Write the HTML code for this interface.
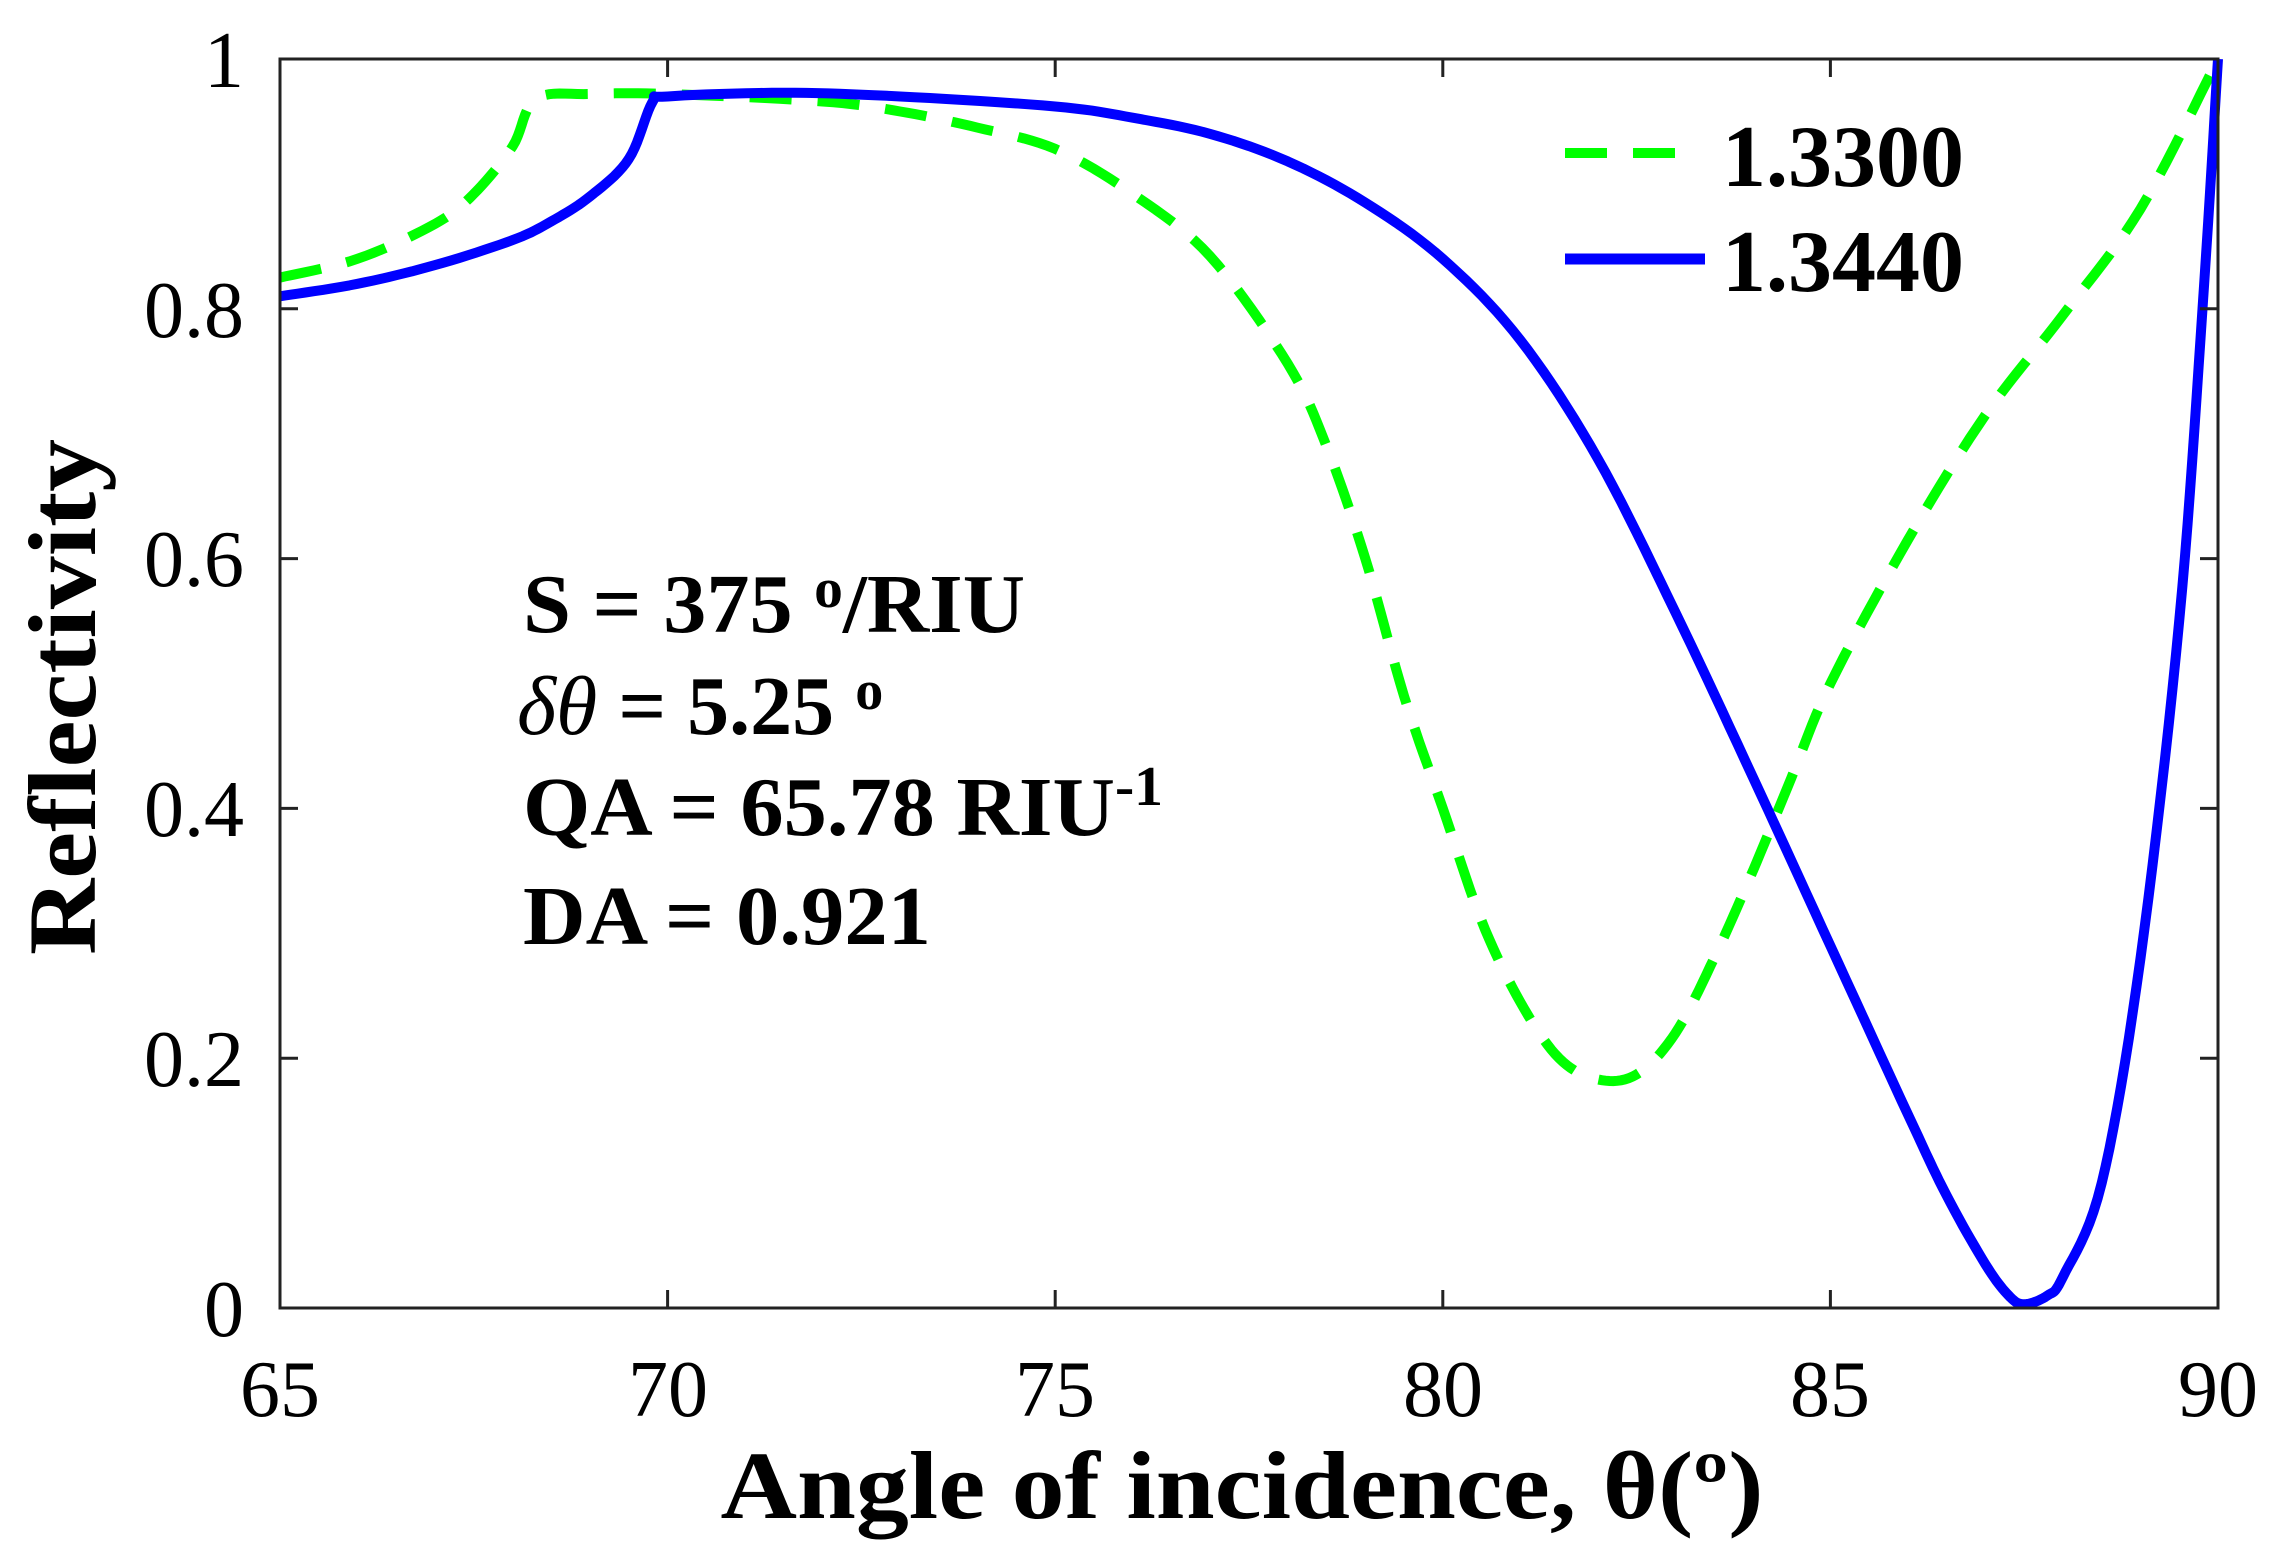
<!DOCTYPE html>
<html><head><meta charset="utf-8"><style>
html,body{margin:0;padding:0;background:#fff;}
svg{display:block;}
text{font-family:"Liberation Serif",serif;fill:#000;}
</style></head><body>
<svg id="s" width="2278" height="1560" viewBox="0 0 2278 1560" xmlns="http://www.w3.org/2000/svg">
<rect x="0" y="0" width="2278" height="1560" fill="#fff"/>
<g id="curves"></g>
<rect x="280" y="59" width="1938" height="1249" fill="none" stroke="#222" stroke-width="3"/>
<g id="ticks" stroke="#222" stroke-width="3"></g>
<g font-size="80" text-anchor="middle">
<text x="280" y="1416">65</text><text x="668" y="1416">70</text><text x="1055" y="1416">75</text>
<text x="1443" y="1416">80</text><text x="1830" y="1416">85</text><text x="2218" y="1416">90</text>
</g>
<g font-size="80" text-anchor="end">
<text x="244" y="1336">0</text><text x="244" y="1086">0.2</text><text x="244" y="836">0.4</text>
<text x="244" y="586">0.6</text><text x="244" y="337">0.8</text><text x="244" y="87">1</text>
</g>
<text x="1242" y="1518" font-size="96" font-weight="bold" text-anchor="middle" textLength="1043" lengthAdjust="spacingAndGlyphs">Angle of incidence, θ(º)</text>
<text transform="translate(95,697) rotate(-90)" font-size="96" font-weight="bold" text-anchor="middle" textLength="516" lengthAdjust="spacingAndGlyphs">Reflectivity</text>
<g font-size="84" font-weight="bold">
<text x="523" y="632" textLength="502" lengthAdjust="spacingAndGlyphs">S = 375 <tspan font-size="56" dy="-25">o</tspan><tspan dy="25">/RIU</tspan></text>
<text x="517" y="734"><tspan font-style="italic" font-weight="normal">δθ</tspan> = 5.25 <tspan font-size="56" dy="-25">o</tspan></text>
<text x="523" y="835" textLength="640" lengthAdjust="spacingAndGlyphs">QA = 65.78 RIU<tspan font-size="56" dy="-30">-1</tspan></text>
<text x="523" y="944" textLength="408" lengthAdjust="spacingAndGlyphs">DA = 0.921</text>
</g>
<line x1="1565" y1="153" x2="1681" y2="153" stroke="#00ff00" stroke-width="10" stroke-dasharray="42,26"/>
<line x1="1565" y1="259" x2="1705" y2="259" stroke="#0000ff" stroke-width="11"/>
<g font-size="88" font-weight="bold">
<text x="1722" y="186">1.3300</text><text x="1722" y="291">1.3440</text>
</g>
</svg>
<script>
(function(){
var X=function(d){return 280+(d-65)*77.52;}, Y=function(v){return 1308-v*1249;};
var g=[[65,0.825],[66,0.84],[67,0.868],[67.5,0.892],[68,0.93],[68.3,0.968],[69,0.972],[70,0.972],[72,0.966],[73,0.958],[74,0.945],[75,0.928],[76,0.892],[77,0.842],[78,0.756],[78.5,0.69],[79,0.6],[79.5,0.49],[80,0.4],[80.5,0.31],[81,0.245],[81.5,0.2],[82,0.183],[82.5,0.187],[83,0.22],[83.5,0.28],[84,0.35],[84.5,0.425],[85,0.5],[86,0.615],[87,0.715],[88,0.795],[89,0.88],[90,1.0]];
var b=[[65,0.81],[66,0.82],[67,0.835],[68,0.855],[68.5,0.87],[69,0.89],[69.5,0.92],[69.8,0.965],[70,0.97],[71.5,0.973],[73,0.97],[75,0.962],[76,0.953],[77,0.94],[78,0.918],[79,0.885],[80,0.84],[81,0.775],[82,0.68],[83,0.557],[84,0.425],[85,0.29],[86,0.155],[86.5,0.09],[87,0.035],[87.3,0.01],[87.5,0.003],[87.8,0.01],[88,0.025],[88.5,0.1],[89,0.28],[89.5,0.55],[89.8,0.8],[90,1.0]];
function path(p){var s='';for(var i=0;i<p.length-1;i++){var p0=p[Math.max(i-1,0)],p1=p[i],p2=p[i+1],p3=p[Math.min(i+2,p.length-1)];
for(var t=0;t<=10;t++){var u=t/10,u2=u*u,u3=u2*u;
var f=function(a,b,c,d){return 0.5*((2*b)+(-a+c)*u+(2*a-5*b+4*c-d)*u2+(-a+3*b-3*c+d)*u3);};
var x=f(p0[0],p1[0],p2[0],p3[0]),y=f(p0[1],p1[1],p2[1],p3[1]);s+=(s?'L':'M')+X(x).toFixed(1)+','+Y(y).toFixed(1);}}return s;}
var NS='http://www.w3.org/2000/svg',c=document.getElementById('curves');
var pg=document.createElementNS(NS,'path');pg.setAttribute('d',path(g));pg.setAttribute('fill','none');pg.setAttribute('stroke','#00ff00');pg.setAttribute('stroke-width','10');pg.setAttribute('stroke-dasharray','42,26');c.appendChild(pg);
var pb=document.createElementNS(NS,'path');pb.setAttribute('d',path(b));pb.setAttribute('fill','none');pb.setAttribute('stroke','#0000ff');pb.setAttribute('stroke-width','10');pb.setAttribute('stroke-linejoin','round');c.appendChild(pb);
var tk=document.getElementById('ticks'),L=18;
function ln(a,b2,c2,d){var l=document.createElementNS(NS,'line');l.setAttribute('x1',a);l.setAttribute('y1',b2);l.setAttribute('x2',c2);l.setAttribute('y2',d);tk.appendChild(l);}
for(var d=70;d<90;d+=5){ln(X(d),1308,X(d),1308-L);ln(X(d),59,X(d),59+L);}
for(var v=0.2;v<0.99;v+=0.2){ln(280,Y(v),280+L,Y(v));ln(2218,Y(v),2218-L,Y(v));}
})();
</script>
</body></html>
